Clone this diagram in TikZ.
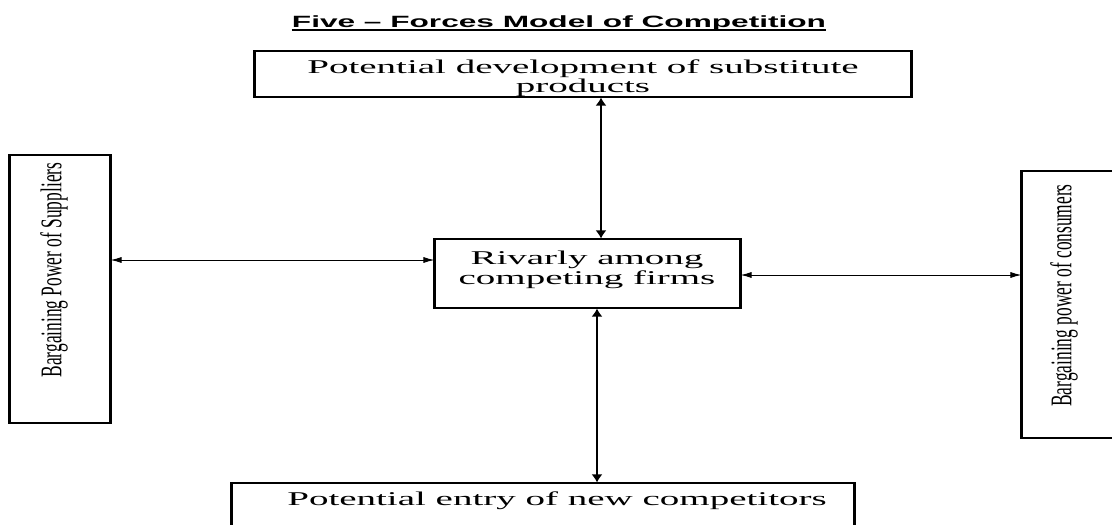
\documentclass[tikz,border=0pt]{standalone}
\usepackage{fontspec}
\usetikzlibrary{arrows.meta}
\newfontfamily\boxfont[FakeStretch=2.0]{Liberation Serif}
\newfontfamily\sidefont[FakeStretch=0.58]{Liberation Serif}
\newfontfamily\headfont[FakeStretch=1.94]{Liberation Sans}
\begin{document}
\begin{tikzpicture}[x=1pt,y=-1pt,
  box/.style={draw, line width=1.1pt, inner sep=0pt},
  vedge/.style={line width=2pt},
  btext/.style={font=\boxfont\fontsize{19.5}{19.5}\selectfont, align=center, inner sep=0pt},
  stext/.style={font=\sidefont\fontsize{30}{32}\selectfont, rotate=90, inner sep=0pt},
  harr/.style={line width=0.9pt, {Latex[length=11pt,width=6pt]}-{Latex[length=11pt,width=6pt]}},
  varr/.style={line width=1.8pt, {Latex[length=8pt,width=11pt]}-{Latex[length=8pt,width=11pt]}},
]
\useasboundingbox (0,0) rectangle (1112,525);
% title
\node[font=\headfont\bfseries\fontsize{16.3}{18}\selectfont, inner sep=0pt, anchor=base] (title) at (559,27) {Five – Forces Model of Competition};
\draw[line width=1.2pt] ([yshift=-3pt]title.base west) -- ([yshift=-3pt]title.base east);
% boxes
\node[box, minimum width=656pt, minimum height=46pt] (subst) at (583,74) {};
\node[btext] (substt) at (583,78) {Potential development of substitute\\products};
\node[box, minimum width=305pt, minimum height=69pt] (rival) at (587.5,273.5) {};
\node[btext] (rivalt) at (587,270) {Rivarly among\\competing firms};
\node[box, minimum width=100pt, minimum height=268pt] (sup) at (60,289) {};
\node[stext] (supt) at (54,270) {Bargaining Power of Suppliers};
\node[box, minimum width=92pt, minimum height=267pt] (cons) at (1068,304.5) {};
\node[stext] (const) at (1064,295.5) {Bargaining power of consumers};
\node[box, minimum width=622pt, minimum height=60pt] (entry) at (543,513) {};
\node[btext, anchor=base] (entryt) at (557,505) {Potential entry of new competitors};
\foreach \n in {subst,rival,sup,cons,entry}{
  \draw[vedge] (\n.north west) -- (\n.south west) (\n.north east) -- (\n.south east);
}
% connectors
\coordinate (ly) at (0,260);
\draw[harr] (sup.east |- ly) -- (rival.west |- ly);
\coordinate (ry) at (0,275);
\draw[harr] (rival.east |- ry) -- (cons.west |- ry);
\coordinate (tx) at (601,0);
\draw[varr] (subst.south -| tx) -- (rival.north -| tx);
\coordinate (bx) at (597,0);
\draw[varr] (rival.south -| bx) -- (entry.north -| bx);
\end{tikzpicture}
\end{document}
